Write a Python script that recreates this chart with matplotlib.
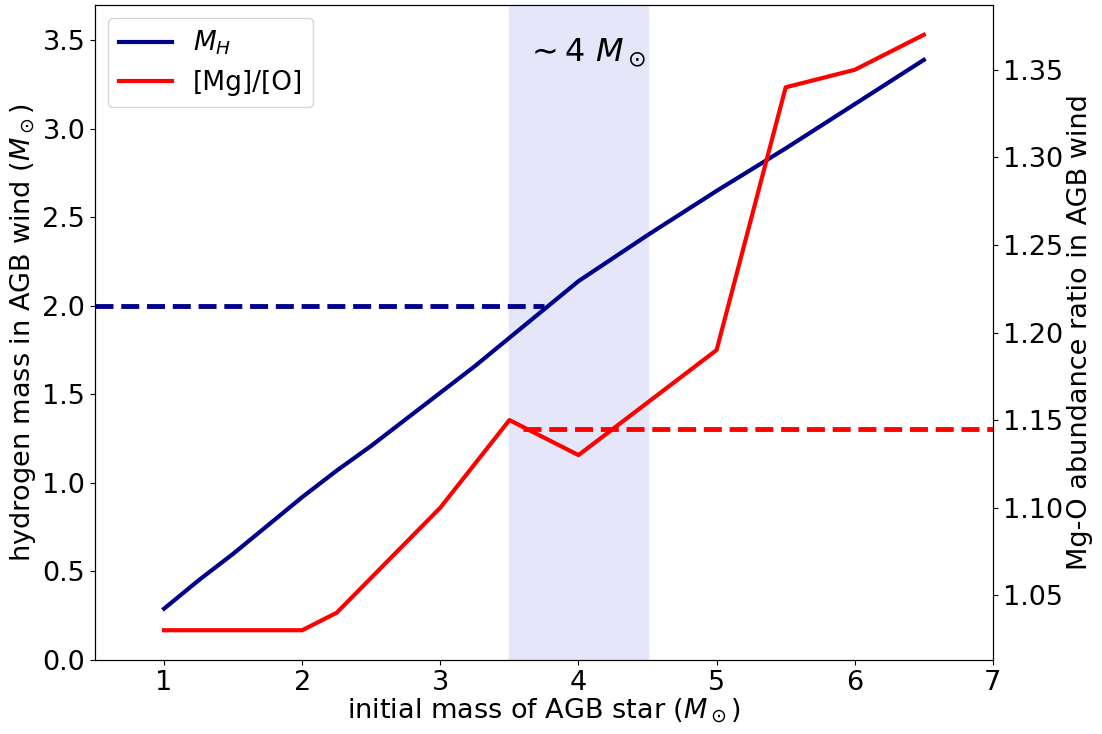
import matplotlib
matplotlib.use("Agg")
import matplotlib.pyplot as plt

# initial stellar masses of the AGB models (Msun)
masses_h = [1.0, 1.25, 1.5, 1.75, 2.0, 2.25, 2.5, 2.75, 3.0, 3.25, 3.5, 3.75, 4.0, 4.5, 5.0, 5.5, 6.0, 6.5]
# hydrogen mass lost in the wind (Msun)
hydrogen_mass = [0.29, 0.45, 0.60, 0.76, 0.92, 1.07, 1.21, 1.36, 1.51, 1.66, 1.82, 1.98, 2.14, 2.40, 2.65, 2.89, 3.14, 3.39]

masses_mg = [1.0, 2.0, 2.25, 3.0, 3.5, 4.0, 5.0, 5.5, 6.0, 6.5]
# Mg/O abundance ratio in the wind
mg_o_ratio = [1.03, 1.03, 1.04, 1.10, 1.15, 1.13, 1.19, 1.34, 1.35, 1.37]

h_limit = 2.0
h_limit_end = 3.75
mg_limit = 1.145
mg_limit_start = 3.6
band = (3.5, 4.5)

fig = plt.figure(figsize=(11.02, 7.34), dpi=100)
ax = fig.add_axes([0.0862, 0.1008, 0.8148, 0.8924])
ax2 = ax.twinx()

ax.axvspan(band[0], band[1], color="lavender", zorder=0)
l1, = ax.plot(masses_h, hydrogen_mass, color="darkblue", lw=3, label="$M_H$")
ax.hlines(h_limit, 0.5, h_limit_end, colors="darkblue", linestyles="--", lw=3.5)
l2, = ax2.plot(masses_mg, mg_o_ratio, color="red", lw=3, label="[Mg]/[O]")
ax2.hlines(mg_limit, mg_limit_start, 7, colors="red", linestyles="--", lw=3.5)

ax.set_xlim(0.5, 7)
ax.set_ylim(0, 3.7)
ax.set_xticks([1, 2, 3, 4, 5, 6, 7])
ax.set_yticks([0.0, 0.5, 1.0, 1.5, 2.0, 2.5, 3.0, 3.5])

ax.set_xlabel(r"initial mass of AGB star ($M_\odot$)", fontsize=19.5, labelpad=1)
ax.set_ylabel(r"hydrogen mass in AGB wind ($M_\odot$)", fontsize=19.5, labelpad=3)
ax2.set_ylabel("Mg-O abundance ratio in AGB wind", fontsize=19.5, labelpad=3)

ax.tick_params(labelsize=19.5)
ax2.tick_params(labelsize=19.5)

ax.text(4.05, 3.43, r"$\sim 4\ M_\odot$", fontsize=23, ha="center", va="center")

ax.legend(handles=[l1, l2], loc="upper left", fontsize=19)

fig.savefig("out.png", dpi=100)
